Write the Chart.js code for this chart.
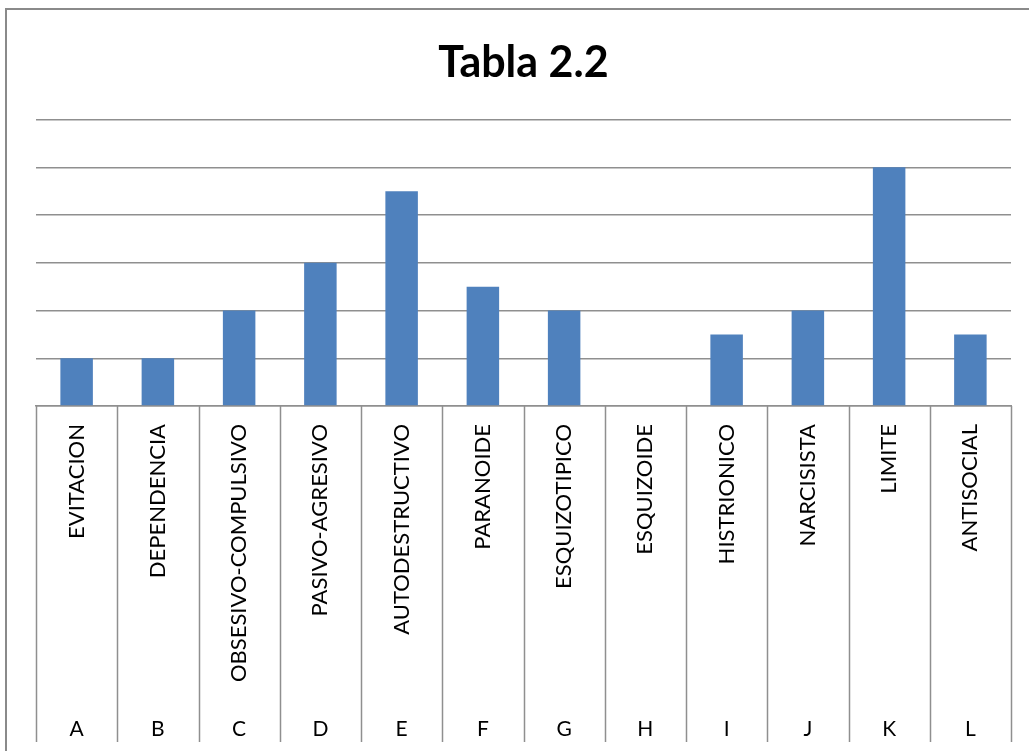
<!DOCTYPE html>
<html>
<head>
<meta charset="utf-8">
<script src="https://cdn.jsdelivr.net/npm/chart.js@4/dist/chart.umd.min.js"></script>
<style>
    body { margin: 0; background: #fff; }
    canvas { display: block; }
</style>
</head>
<body>
<canvas id="chart-1" width="1029" height="751"></canvas>
<script>
// Data
const names = ["EVITACION", "DEPENDENCIA", "OBSESIVO-COMPULSIVO", "PASIVO-AGRESIVO", "AUTODESTRUCTIVO",
    "PARANOIDE", "ESQUIZOTIPICO", "ESQUIZOIDE", "HISTRIONICO", "NARCISISTA", "LIMITE", "ANTISOCIAL"]
const letters = ["A", "B", "C", "D", "E", "F", "G", "H", "I", "J", "K", "L"]
const values = [1, 1, 2, 3, 4.5, 2.5, 2, 0, 1.5, 2, 5, 1.5]
const yMax = 6

const lineGray = "#8f8f8f"
const font = "Lato, 'Open Sans', sans-serif"

// outer frame + category separator lines
const framePlugin = {
    id: "frame",
    beforeDraw(chart) {
        const c = chart.ctx
        c.save()
        c.strokeStyle = "#8a8a8a"
        c.lineWidth = 2
        c.beginPath()
        c.moveTo(6, chart.height)
        c.lineTo(6, 9)
        c.lineTo(chart.width, 9)
        c.stroke()
        c.restore()
    },
    afterDraw(chart) {
        const x = chart.scales.x
        const x2 = chart.scales.x2
        const c = chart.ctx
        const step = x.width / names.length
        c.save()
        c.strokeStyle = lineGray
        c.lineWidth = 1.5
        for (let i = 0; i <= names.length; i++) {
            const px = Math.round(x.getPixelForValue(0) - step / 2 + i * step) + 0.5
            c.beginPath()
            c.moveTo(px, chart.chartArea.bottom)
            c.lineTo(px, x2.bottom)
            c.stroke()
        }
        c.restore()
    }
}

const ctx1 = document.getElementById("chart-1")

new Chart(ctx1, {
    type: "bar",
    data: {
        labels: names,
        datasets: [{
            data: values,
            backgroundColor: "#4f81bd",
            barPercentage: 0.4,
            categoryPercentage: 1
        }]
    },
    options: {
        responsive: false,
        animation: false,
        layout: { padding: { left: 36, right: 18, top: 10, bottom: 9 } },
        plugins: {
            legend: { display: false },
            tooltip: { enabled: false },
            title: {
                display: true,
                text: "Tabla 2.2",
                color: "#000",
                font: { family: font, size: 43, weight: "bold" },
                padding: { top: 27, bottom: 31 }
            }
        },
        scales: {
            y: {
                min: 0,
                max: yMax,
                ticks: { display: false, stepSize: 1 },
                border: { display: false },
                grid: { color: lineGray, lineWidth: 1.5, drawTicks: false },
                afterFit: s => { s.width = 0 }
            },
            x: {
                position: "bottom",
                grid: { display: false, drawTicks: false },
                border: { display: true, color: lineGray, width: 1.5 },
                ticks: {
                    color: "#000",
                    font: { family: font, size: 22 },
                    minRotation: 90,
                    maxRotation: 90,
                    autoSkip: false,
                    padding: 18
                },
                afterFit: s => { s.height = 295 }
            },
            x2: {
                position: "bottom",
                labels: letters,
                grid: { display: false, drawTicks: false },
                border: { display: false },
                ticks: {
                    color: "#000",
                    font: { family: font, size: 21 },
                    maxRotation: 0,
                    autoSkip: false,
                    padding: 16
                },
                afterFit: s => { s.height = 41 }
            }
        }
    },
    plugins: [framePlugin]
});
</script>
</body>
</html>
